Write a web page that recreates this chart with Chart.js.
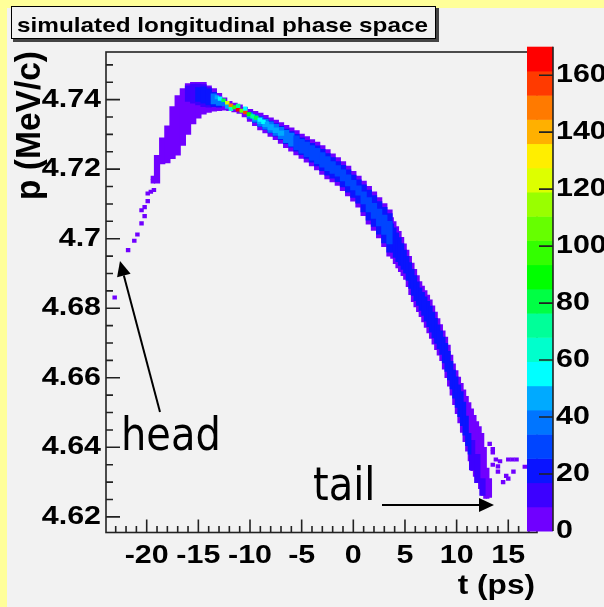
<!DOCTYPE html>
<html>
<head>
<meta charset="utf-8">
<script src="https://cdn.jsdelivr.net/npm/chart.js@4.4.1/dist/chart.umd.min.js"></script>
<style>
  html, body { margin: 0; padding: 0; background: #ffff99; }
  canvas { display: block; }
</style>
</head>
<body>
<canvas id="myChart" width="604" height="607"></canvas>
<script>
// main band, upper part: 0.5 ps wide columns (t centre, p low, p high of the purple envelope)
let bandT = [-19, -18.5, -18, -17.5, -17, -16.5, -16, -15.5, -15, -14.5, -14, -13.5, -13, -12.5, -12, -11.5, -11, -10.5,
  -10, -9.5, -9, -8.5, -8, -7.5, -7, -6.5, -6, -5.5, -5, -4.5, -4, -3.5, -3, -2.5, -2, -1.5, -1, -0.5,
  0, 0.5, 1, 1.5, 2, 2.5, 3, 3.5];
let bandLow = [4.7160, 4.7215, 4.7218, 4.7230, 4.7240, 4.7268, 4.7300, 4.7330, 4.7347, 4.7358, 4.7363, 4.7367, 4.7368, 4.7370, 4.7368, 4.7365, 4.7360, 4.7350,
  4.7337, 4.7325, 4.7313, 4.7304, 4.7294, 4.7285, 4.7274, 4.7262, 4.7252, 4.7241, 4.7231, 4.7220, 4.7209, 4.7198, 4.7185, 4.7172, 4.7163, 4.7153, 4.7138, 4.7123,
  4.7108, 4.7091, 4.7066, 4.7042, 4.7024, 4.7002, 4.6977, 4.6950];
let bandHigh = [4.7240, 4.7290, 4.7325, 4.7380, 4.7412, 4.7432, 4.7446, 4.7450, 4.7450, 4.7450, 4.7440, 4.7432, 4.7418, 4.7405, 4.7395, 4.7390, 4.7385, 4.7378,
  4.7372, 4.7366, 4.7361, 4.7355, 4.7348, 4.7341, 4.7334, 4.7326, 4.7319, 4.7311, 4.7301, 4.7294, 4.7285, 4.7278, 4.7268, 4.7256, 4.7244, 4.7233, 4.7222, 4.7209,
  4.7194, 4.7180, 4.7166, 4.7151, 4.7135, 4.7118, 4.7101, 4.7083];

// main band, steep lower part: 0.25 ps wide columns
let steepT = [3.75, 4, 4.25, 4.5, 4.75, 5, 5.25, 5.5, 5.75, 6, 6.25, 6.5, 6.75, 7, 7.25, 7.5, 7.75, 8, 8.25, 8.5, 8.75,
  9, 9.25, 9.5, 9.75, 10, 10.25, 10.5, 10.75, 11, 11.25, 11.5, 11.75, 12, 12.25, 12.5, 12.75, 13, 13.25];
let steepLow = [4.6943, 4.6928, 4.6916, 4.6905, 4.6894, 4.6883, 4.6862, 4.6839, 4.6819, 4.6804, 4.6790, 4.6776, 4.6761, 4.6745, 4.6729, 4.6713, 4.6697, 4.6681, 4.6665, 4.6649, 4.6625,
  4.6600, 4.6576, 4.6550, 4.6523, 4.6497, 4.6470, 4.6443, 4.6416, 4.6389, 4.6361, 4.6333, 4.6316, 4.6299, 4.6281, 4.6262, 4.6253, 4.6253, 4.6256];
let steepHigh = [4.7061, 4.7049, 4.7035, 4.7021, 4.7004, 4.6985, 4.6967, 4.6949, 4.6930, 4.6912, 4.6894, 4.6877, 4.6864, 4.6851, 4.6838, 4.6824, 4.6807, 4.6789, 4.6770, 4.6753, 4.6735,
  4.6717, 4.6694, 4.6665, 4.6640, 4.6621, 4.6602, 4.6584, 4.6565, 4.6547, 4.6529, 4.6511, 4.6492, 4.6474, 4.6460, 4.6440, 4.6400, 4.6340, 4.6310];

// second level (10-20 entries)
let indigoT = [-16, -15.5, -15, -14.5, -14, 11.5, 12, 12.5];
let indigoLow = [4.7395, 4.7390, 4.7385, 4.7380, 4.7378, 4.6335, 4.6298, 4.6262];
let indigoHigh = [4.7440, 4.7445, 4.7445, 4.7443, 4.7435, 4.6420, 4.6380, 4.6310];

// blue core (20-30 entries), upper part
let coreT = [-15, -14.5, -14, -13.5, -13,
  -10, -9.5, -9, -8.5, -8, -7.5, -7, -6.5, -6, -5.5, -5, -4.5, -4, -3.5, -3, -2.5, -2, -1.5, -1, -0.5,
  0, 0.5, 1, 1.5, 2, 2.5, 3, 3.5];
let coreLow = [4.7395, 4.7390, 4.7385, 4.7380, 4.7378,
  4.7345, 4.7334, 4.7323, 4.7314, 4.7304, 4.7295, 4.7285, 4.7273, 4.7263, 4.7252, 4.7242, 4.7231, 4.7220, 4.7209, 4.7196, 4.7183, 4.7174, 4.7164, 4.7149, 4.7134,
  4.7119, 4.7102, 4.7077, 4.7053, 4.7035, 4.7013, 4.6988, 4.6961];
let coreHigh = [4.7435, 4.7437, 4.7430, 4.7421, 4.7408,
  4.7364, 4.7357, 4.7351, 4.7345, 4.7338, 4.7331, 4.7323, 4.7315, 4.7308, 4.7300, 4.7290, 4.7283, 4.7274, 4.7267, 4.7257, 4.7245, 4.7233, 4.7222, 4.7211, 4.7198,
  4.7183, 4.7169, 4.7155, 4.7140, 4.7124, 4.7107, 4.7090, 4.7072];

// blue core, steep part
let steepCoreT = [3.75, 4, 4.25, 4.5, 4.75, 5, 5.25, 5.5, 5.75, 6, 6.25, 6.5, 6.75, 7, 7.25, 7.5, 7.75, 8, 8.25, 8.5, 8.75,
  9, 9.25, 9.5, 9.75, 10, 10.25, 10.5, 10.75, 11, 11.25];
let steepCoreLow = [4.6961, 4.6946, 4.6934, 4.6923, 4.6912, 4.6901, 4.6880, 4.6857, 4.6837, 4.6822, 4.6808, 4.6794, 4.6779, 4.6763, 4.6747, 4.6731, 4.6715, 4.6699, 4.6683, 4.6667, 4.6643,
  4.6618, 4.6594, 4.6568, 4.6541, 4.6515, 4.6488, 4.6462, 4.6435, 4.6405, 4.6380];
let steepCoreHigh = [4.7043, 4.7031, 4.7017, 4.7003, 4.6986, 4.6967, 4.6949, 4.6931, 4.6912, 4.6894, 4.6876, 4.6859, 4.6846, 4.6833, 4.6820, 4.6806, 4.6789, 4.6771, 4.6752, 4.6735, 4.6717,
  4.6699, 4.6676, 4.6647, 4.6622, 4.6603, 4.6580, 4.6560, 4.6530, 4.6490, 4.6440];

// lighter blue (30-45 entries) with its palette level per column
let lightT = [-13.5, -13, -10, -9.5, -9, -8.5, -8, -7.5, -7, -6.5, -6, -5.5, -5, -4.5, -4, -3.5, -3, -2.5, -2, -1.5, -1, -0.5, 0,
  0.5, 1, 1.5, 2, 2.5, 3, 3.5];
let lightLow = [4.7388, 4.7383, 4.7346, 4.7335, 4.7324, 4.7315, 4.7306, 4.7297, 4.7288, 4.7276, 4.7266, 4.7256, 4.7246, 4.7236, 4.7226, 4.7216, 4.7206, 4.7196, 4.7188, 4.7180, 4.7166, 4.7152, 4.7140,
  4.7125, 4.7100, 4.7077, 4.7058, 4.7037, 4.7012, 4.6985];
let lightHigh = [4.7417, 4.7406, 4.7363, 4.7356, 4.7350, 4.7343, 4.7336, 4.7329, 4.7320, 4.7312, 4.7304, 4.7296, 4.7286, 4.7278, 4.7268, 4.7260, 4.7248, 4.7236, 4.7222, 4.7210, 4.7198, 4.7184, 4.7168,
  4.7152, 4.7135, 4.7118, 4.7102, 4.7085, 4.7068, 4.7050];
let lightLevel = [4, 4, 4, 4, 4, 4, 4, 4, 4, 4, 4, 3, 3, 3, 3, 3, 3, 3, 3, 3, 3, 3, 3,
  3, 3, 3, 3, 3, 3, 3];

// sky blue (45-55 entries)
let skyT = [-10, -9.5, -9, -8.5, -8, -7.5, -7];
let skyLow = [4.7351, 4.7341, 4.7331, 4.7322, 4.7313, 4.7305, 4.7297];
let skyHigh = [4.7359, 4.7351, 4.7343, 4.7337, 4.7328, 4.7319, 4.7310];

// single hot cells of the narrow stream: t, p, palette level
let hotT = [-13.2, -12.9, -12.55, -12.55, -12.2, -12.2, -11.85, -11.85, -11.5, -11.15, -11.15, -10.8, -10.45, -10.45, -10.1, -9.75, -9.4, -9.05, -8.7, -8.35];
let hotP = [4.7407, 4.7403, 4.7397, 4.7387, 4.7390, 4.7380, 4.7383, 4.7373, 4.7378, 4.7372, 4.7382, 4.7368, 4.7364, 4.7374, 4.7358, 4.7352, 4.7348, 4.7342, 4.7336, 4.7330];
let hotLevel = [5, 6, 9, 4, 14, 5, 17, 7, 11, 19, 8, 12, 18, 6, 10, 8, 9, 6, 6, 5];

// isolated cells of the head trail and the tail spray
let headT = [-23.1, -21.8, -21.2, -20.9, -20.5, -20.2, -20.5, -20.2, -19.9, -19.9, -19.6, -19.3, -19.4, -19.4];
let headP = [4.6831, 4.6967, 4.6994, 4.7012, 4.7044, 4.7065, 4.7082, 4.7091, 4.7108, 4.7130, 4.7135, 4.7140, 4.7165, 4.7175];
let tailT = [13.5, 13.5, 13.5, 13.2, 13.8, 14.0, 14.0, 14.2, 14.5, 14.8, 15.0, 15.0, 15.4, 15.5, 15.8, 16.6];
let tailP = [4.6395, 4.6385, 4.6350, 4.6410, 4.6365, 4.6345, 4.6330, 4.6360, 4.6300, 4.6318, 4.6365, 4.6310, 4.6365, 4.6330, 4.6365, 4.6344];

// axes and colour scale
let tTicks = [-20, -15, -10, -5, 0, 5, 10, 15];
let pTicks = [4.62, 4.64, 4.66, 4.68, 4.7, 4.72, 4.74];
let pTickLabels = ['4.62', '4.64', '4.66', '4.68', '4.7', '4.72', '4.74'];
let zTicks = [0, 20, 40, 60, 80, 100, 120, 140, 160];
let zMax = 170;
let paletteColors = ['#7000ff', '#3c00ff', '#0a14ff', '#0045ff', '#0075ff', '#00aaff', '#00ffff', '#00ffcc', '#00ff99', '#00ff44',
  '#00ff00', '#33ff00', '#66ff00', '#99ff00', '#ddff00', '#ffee00', '#ffb000', '#ff7a00', '#ff3a00', '#ff0000'];

const FONT = '"Liberation Sans", Arial, Helvetica, sans-serif';
const ANNOT_FONT = '"DejaVu Sans", Verdana, sans-serif';
const CELL_H = 0.001;

function columns(ts, lo, hi) {
  return ts.map((t, i) => ({ x: t, y: [lo[i], hi[i]] }));
}
function cells(ts, ps) {
  return ts.map((t, i) => ({ x: t, y: [ps[i] - CELL_H / 2, ps[i] + CELL_H / 2] }));
}

function boldText(c, txt, x, y, size, align, baseline, sx) {
  c.save();
  c.font = 'bold ' + size + 'px ' + FONT;
  c.textAlign = align;
  c.textBaseline = baseline;
  c.translate(x, y);
  c.scale(sx, 1);
  c.fillText(txt, 0, 0);
  c.restore();
}

function arrow(c, x0, y0, x1, y1) {
  const a = Math.atan2(y1 - y0, x1 - x0);
  const L = 15, W = 7;
  const bx = x1 - L * Math.cos(a), by = y1 - L * Math.sin(a);
  c.beginPath(); c.moveTo(x0, y0); c.lineTo(bx, by); c.stroke();
  c.beginPath(); c.moveTo(x1, y1);
  c.lineTo(bx + W * Math.sin(a), by - W * Math.cos(a));
  c.lineTo(bx - W * Math.sin(a), by + W * Math.cos(a));
  c.closePath(); c.fill();
}

const decor = {
  id: 'decor',
  beforeDraw(chart) {
    const c = chart.ctx;
    c.save();
    c.fillStyle = '#ffff99';
    c.fillRect(0, 0, chart.width, chart.height);
    c.fillStyle = '#f2f2f2';
    c.fillRect(7, 8, chart.width - 7, chart.height - 8);
    c.restore();
  },
  afterDraw(chart) {
    const c = chart.ctx;
    const xs = chart.scales.x, ys = chart.scales.y;
    const { left, right, top, bottom } = chart.chartArea;
    c.save();

    // frame
    c.strokeStyle = '#222';
    c.lineWidth = 1.6;
    c.strokeRect(left, top, right - left, bottom - top);

    // y ticks (inside), major every 0.02, minor every 0.005
    c.beginPath();
    for (let k = Math.ceil(ys.min / 0.005); k * 0.005 <= ys.max; k++) {
      const py = ys.getPixelForValue(k * 0.005);
      c.moveTo(left, py);
      c.lineTo(left + (k % 4 === 0 ? 14 : 7), py);
    }
    // x ticks (inside), major every 5, minor every 1
    for (let t = Math.ceil(xs.min); t <= xs.max; t++) {
      const px = xs.getPixelForValue(t);
      c.moveTo(px, bottom);
      c.lineTo(px, bottom - (t % 5 === 0 ? 13 : 6.5));
    }
    c.stroke();

    c.fillStyle = '#000';
    pTicks.forEach((p, i) => boldText(c, pTickLabels[i], left - 5, ys.getPixelForValue(p), 26, 'right', 'middle', 1.17));
    tTicks.forEach(t => boldText(c, String(t), xs.getPixelForValue(t), bottom + 30.5, 26, 'center', 'alphabetic', 1.17));

    // axis titles
    boldText(c, 't (ps)', 535, 594, 27, 'right', 'alphabetic', 1.17);
    c.save();
    c.translate(40, 51);
    c.rotate(-Math.PI / 2);
    c.scale(1, 1.04);
    c.font = 'bold 33.5px ' + FONT;
    c.textAlign = 'right';
    c.textBaseline = 'alphabetic';
    c.fillText('p (MeV/c)', 0, 0);
    c.restore();

    // colour palette
    const zx0 = 527, zx1 = 553, zy0 = 531, zy1 = 46.7;
    const zToY = z => zy0 - z * (zy0 - zy1) / zMax;
    const step = zMax / paletteColors.length;
    paletteColors.forEach((col, i) => {
      c.fillStyle = col;
      const ya = zToY(i * step), yb = zToY((i + 1) * step);
      c.fillRect(zx0, yb, zx1 - zx0, ya - yb + 0.5);
    });
    c.strokeStyle = '#222';
    c.beginPath();
    c.moveTo(zx1, zy1); c.lineTo(zx1, zy0);
    zTicks.forEach(z => { if (z > 0) { c.moveTo(zx1, zToY(z)); c.lineTo(zx1 - 14, zToY(z)); } });
    c.stroke();
    c.fillStyle = '#000';
    zTicks.forEach(z => boldText(c, String(z), 556, zToY(z), 26, 'left', 'middle', 1.17));

    // title box
    c.fillStyle = '#444';
    c.fillRect(13, 39, 426, 3);
    c.fillRect(436, 8, 3, 34);
    c.fillStyle = '#f2f2f2';
    c.fillRect(11, 6, 425, 33);
    c.strokeStyle = '#000';
    c.lineWidth = 1;
    c.strokeRect(11.5, 6.5, 424, 32);
    c.font = 'bold 21px ' + FONT;
    const tw = c.measureText('simulated longitudinal phase space').width;
    c.fillStyle = '#000';
    boldText(c, 'simulated longitudinal phase space', 17, 32, 21, 'left', 'alphabetic', 411 / tw);

    // annotations
    c.fillStyle = '#000';
    c.strokeStyle = '#000';
    c.lineWidth = 2;
    c.font = '40px ' + ANNOT_FONT;
    c.textAlign = 'left';
    c.textBaseline = 'alphabetic';
    c.save(); c.translate(121, 450); c.scale(1, 1.15); c.fillText('head', 0, 0); c.restore();
    c.save(); c.translate(313, 500); c.scale(1, 1.15); c.fillText('tail', 0, 0); c.restore();
    arrow(c, 160, 412, 120, 261);
    arrow(c, 382, 505, 494, 505);
    c.restore();
  }
};

function createChart() {
  const ctx = document.getElementById('myChart').getContext('2d');
  new Chart(ctx, {
    type: 'bar',
    data: {
      datasets: [
        { label: 'hot', data: cells(hotT, hotP), backgroundColor: hotLevel.map(l => paletteColors[l]), barThickness: 3.8, order: 0 },
        { label: 'sky', data: columns(skyT, skyLow, skyHigh), backgroundColor: paletteColors[5], barThickness: 5.6, order: 1 },
        { label: 'light', data: columns(lightT, lightLow, lightHigh), backgroundColor: lightLevel.map(l => paletteColors[l]), barThickness: 5.6, order: 2 },
        { label: 'core', data: columns(coreT, coreLow, coreHigh), backgroundColor: paletteColors[2], barThickness: 5.6, order: 3 },
        { label: 'steep core', data: columns(steepCoreT, steepCoreLow, steepCoreHigh), backgroundColor: paletteColors[2], barThickness: 3.0, order: 3 },
        { label: 'indigo', data: columns(indigoT, indigoLow, indigoHigh), backgroundColor: paletteColors[1], barThickness: 5.6, order: 4 },
        { label: 'band', data: columns(bandT, bandLow, bandHigh), backgroundColor: paletteColors[0], barThickness: 5.6, order: 5 },
        { label: 'steep band', data: columns(steepT, steepLow, steepHigh), backgroundColor: paletteColors[0], barThickness: 3.0, order: 5 },
        { label: 'head', data: cells(headT, headP), backgroundColor: paletteColors[0], barThickness: 3.8, order: 6 },
        { label: 'tail', data: cells(tailT, tailP), backgroundColor: paletteColors[0], barThickness: 3.8, order: 7 }
      ]
    },
    options: {
      responsive: false,
      animation: false,
      events: [],
      layout: { padding: { left: 106, top: 52, right: 67, bottom: 74.5 } },
      datasets: { bar: { grouped: false, borderWidth: 0 } },
      scales: {
        x: { type: 'linear', min: -23.94, max: 17.78, offset: false, display: false },
        y: { type: 'linear', min: 4.6155, max: 4.7537, display: false }
      },
      plugins: { legend: { display: false }, tooltip: { enabled: false } }
    },
    plugins: [decor]
  });
}

window.onload = createChart;
</script>
</body>
</html>
